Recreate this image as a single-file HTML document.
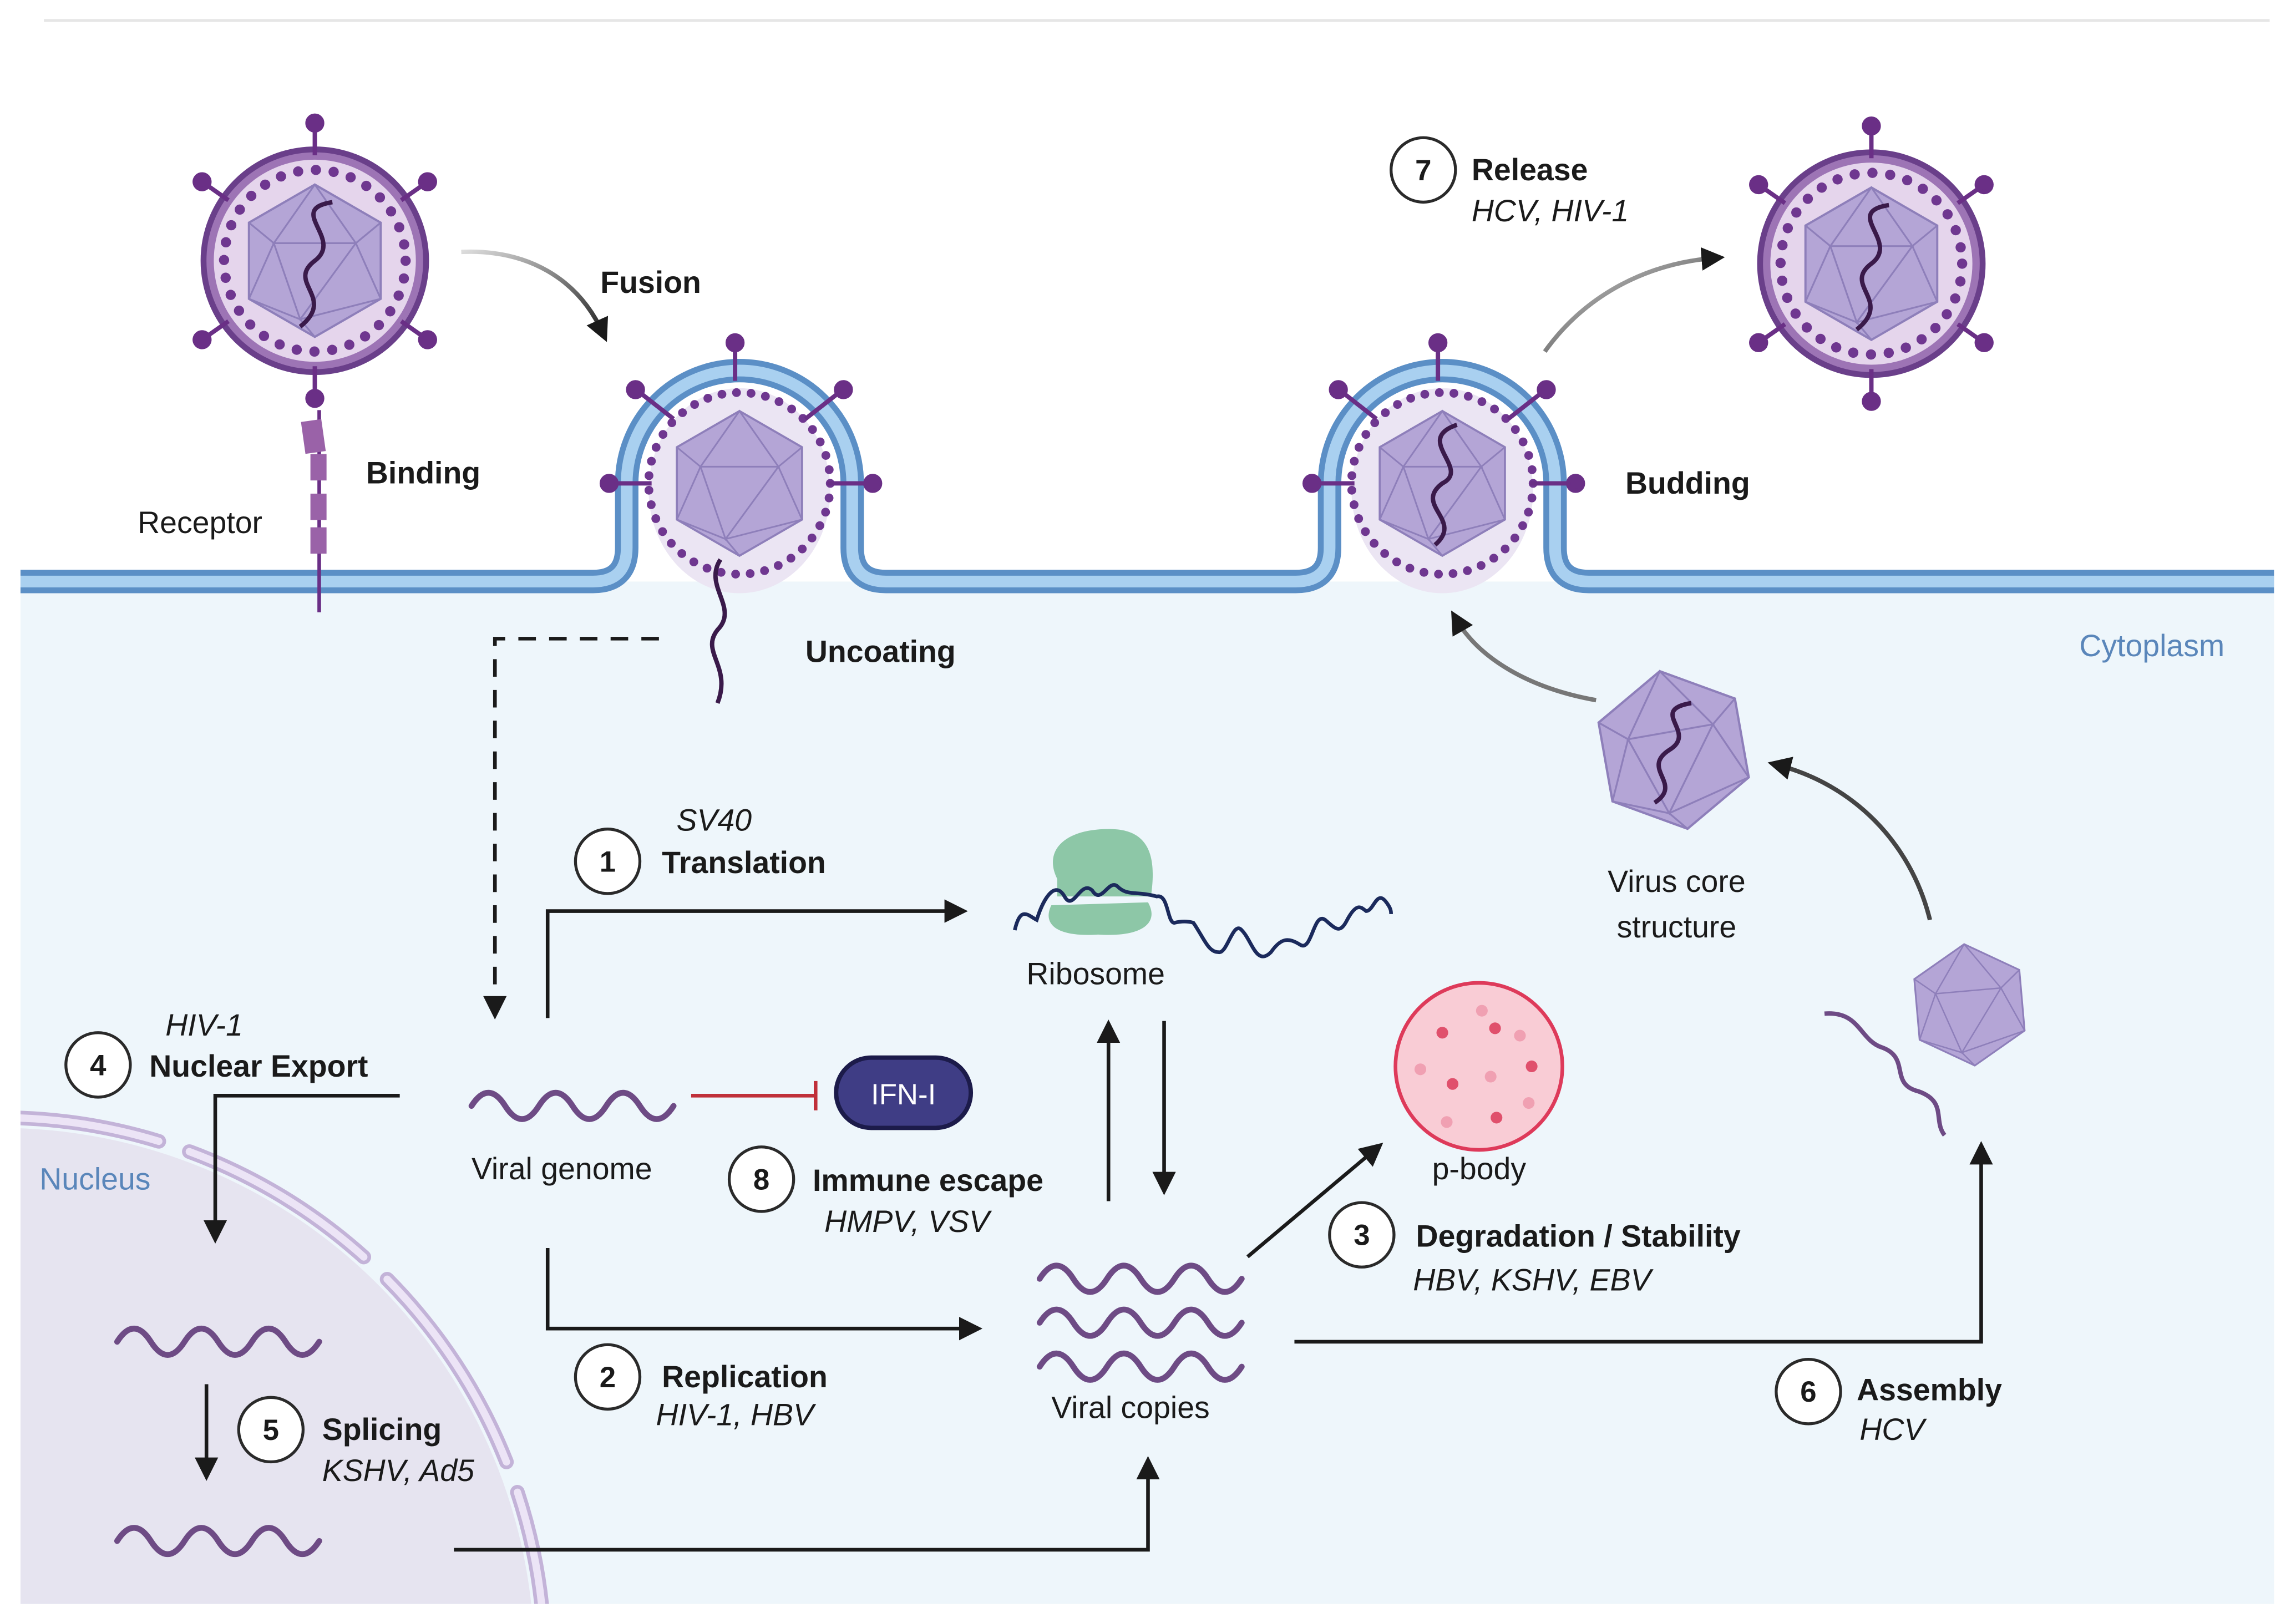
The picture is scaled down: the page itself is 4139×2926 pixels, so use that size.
<!DOCTYPE html>
<html><head><meta charset="utf-8"><style>
html,body{margin:0;padding:0;background:#fff;overflow:hidden;width:4139px;height:2926px}
svg{display:block}
text{font-family:"Liberation Sans",sans-serif;fill:#1a1a1a}
.b{font-weight:bold;font-size:21px}
.r{font-size:21px}
.i{font-style:italic;font-size:21px}
.n{font-weight:bold;font-size:20px;text-anchor:middle}
</style></head><body>
<svg width="4139" height="2926" viewBox="0 0 1568 1108" preserveAspectRatio="none" xmlns="http://www.w3.org/2000/svg">
<defs>
<marker id="ah2" markerWidth="16" markerHeight="16" refX="10" refY="8" orient="auto" markerUnits="userSpaceOnUse"><path d="M0,0 L16,8 L0,16 z" fill="#1a1a1a"/></marker>
<linearGradient id="g1" x1="0" y1="0" x2="1" y2="1"><stop offset="0" stop-color="#ddd"/><stop offset="1" stop-color="#222"/></linearGradient>
<g id="ico">
<polygon points="0,-52 45,-26 45,26 0,52 -45,26 -45,-26" fill="#b4a5d6" stroke="#8e7fba" stroke-width="1.5"/>
<path d="M0,-52 L-28,-12 L28,-12 Z M-28,-12 L-10,40 L28,-12 M-10,40 L0,52 M-45,-26 L-28,-12 M45,-26 L28,-12 M-45,26 L-10,40 M45,26 L-10,40 M-45,26 L-28,-12 M45,26 L28,-12" fill="none" stroke="#8e7fba" stroke-width="1.2"/>
</g>
<g id="spk" stroke="#6a2f86" stroke-width="3" fill="#6a2f86">
<line x1="0" y1="-72" x2="0" y2="-92"/><circle cx="0" cy="-94" r="5"/>
</g>
<g id="virus">
<circle r="76" fill="#9d74b5" stroke="#6a3f8a" stroke-width="4"/>
<circle r="69" fill="#e5d5ec"/>
<circle r="62" fill="none" stroke="#6f3790" stroke-width="7" stroke-dasharray="0 12.2" stroke-linecap="round"/>
<use href="#ico"/>
<path d="M12,-40 C-20,-35 20,-15 0,0 C-20,15 15,25 -10,45" fill="none" stroke="#3a1a4a" stroke-width="3"/>
<use href="#spk"/><use href="#spk" transform="rotate(180)"/>
<use href="#spk" transform="rotate(55)"/><use href="#spk" transform="rotate(-55)"/>
<use href="#spk" transform="rotate(125)"/><use href="#spk" transform="rotate(-125)"/>
</g>
<path id="wv" d="M0 0 q11.5 -18 23 0 q11.5 18 23 0 q11.5 -18 23 0 q11.5 18 23 0 q11.5 -18 23 0 q11.5 18 23 0" fill="none"/>
</defs>
<rect width="1568" height="1108" fill="#fff"/>
<line x1="30" y1="14" x2="1550" y2="14" stroke="#e6e6e6" stroke-width="2"/>
<rect x="14" y="397" width="1539" height="698" fill="#eef6fb"/>
<clipPath id="cl"><rect x="14" y="397" width="1539" height="698"/></clipPath>
<g clip-path="url(#cl)">
<circle cx="0" cy="1135" r="365" fill="#e6e4f0"/>
<circle cx="0" cy="1135" r="372" fill="none" stroke="#c3b3d8" stroke-width="10" stroke-linecap="round" stroke-dasharray="170 22 130 22 140 22 150 22" stroke-dashoffset="-185"/>
<circle cx="0" cy="1135" r="372" fill="none" stroke="#ece4f6" stroke-width="5" stroke-linecap="round" stroke-dasharray="170 22 130 22 140 22 150 22" stroke-dashoffset="-185"/>
</g>
<ellipse cx="505" cy="335" rx="62" ry="70" fill="#ebe5f3"/>
<ellipse cx="985" cy="335" rx="62" ry="70" fill="#ebe5f3"/>
<path d="M14 397 H405 Q428 397 428 374 V330 A77 77 0 0 1 582 330 V374 Q582 397 605 397 H885 Q908 397 908 374 V330 A77 77 0 0 1 1062 330 V374 Q1062 397 1085 397 H1553" fill="none" stroke="#5b8fc6" stroke-width="16"/>
<path d="M14 397 H405 Q428 397 428 374 V330 A77 77 0 0 1 582 330 V374 Q582 397 605 397 H885 Q908 397 908 374 V330 A77 77 0 0 1 1062 330 V374 Q1062 397 1085 397 H1553" fill="none" stroke="#a9d0f0" stroke-width="8"/>
<g transform="translate(505,330)">
<circle r="62" fill="none" stroke="#6f3790" stroke-width="6" stroke-dasharray="0 10" stroke-linecap="round"/>
<use href="#ico" transform="scale(0.95)"/>
<g stroke="#6a2f86" stroke-width="3" fill="#6a2f86">
<line x1="-3" y1="-70" x2="-3" y2="-92"/><circle cx="-3" cy="-96" r="5"/>
<line x1="-45" y1="-44" x2="-68" y2="-62"/><circle cx="-71" cy="-64" r="5"/>
<line x1="45" y1="-44" x2="68" y2="-62"/><circle cx="71" cy="-64" r="5"/>
<line x1="-60" y1="0" x2="-86" y2="0"/><circle cx="-89" cy="0" r="5"/>
<line x1="60" y1="0" x2="86" y2="0"/><circle cx="91" cy="0" r="5"/>
</g>
</g>
<path d="M492 382 C480 400 505 415 490 430 C478 445 500 455 490 480" fill="none" stroke="#3a1a4a" stroke-width="3"/>
<g transform="translate(985,330)">
<circle r="62" fill="none" stroke="#6f3790" stroke-width="6" stroke-dasharray="0 10" stroke-linecap="round"/>
<use href="#ico" transform="scale(0.95)"/>
<path d="M10,-40 C-20,-30 20,-10 0,0 C-20,15 15,25 -5,42" fill="none" stroke="#3a1a4a" stroke-width="3"/>
<g stroke="#6a2f86" stroke-width="3" fill="#6a2f86">
<line x1="-3" y1="-70" x2="-3" y2="-92"/><circle cx="-3" cy="-96" r="5"/>
<line x1="-45" y1="-44" x2="-68" y2="-62"/><circle cx="-71" cy="-64" r="5"/>
<line x1="45" y1="-44" x2="68" y2="-62"/><circle cx="71" cy="-64" r="5"/>
<line x1="-60" y1="0" x2="-86" y2="0"/><circle cx="-89" cy="0" r="5"/>
<line x1="60" y1="0" x2="86" y2="0"/><circle cx="91" cy="0" r="5"/>
</g>
</g>
<use href="#virus" transform="translate(215,178)"/>
<use href="#virus" transform="translate(1278,180)"/>
<g stroke="#6a2f86" fill="#9a62a8">
<line x1="218" y1="280" x2="218" y2="418" stroke-width="2.5"/>
<rect x="207" y="287" width="14" height="22" stroke="none" transform="rotate(-8 214 298)"/>
<rect x="212" y="310" width="11" height="18" stroke="none"/>
<rect x="212" y="337" width="11" height="18" stroke="none"/>
<rect x="212" y="360" width="11" height="18" stroke="none"/>
</g>
<g transform="translate(1143,512) rotate(-10) scale(1.05)"><use href="#ico"/></g>
<path d="M1155 480 C1125 485 1160 500 1140 512 C1120 525 1150 535 1130 548" fill="none" stroke="#3a1a4a" stroke-width="3"/>
<g transform="translate(1345,686) rotate(-5) scale(0.8)"><use href="#ico"/></g>
<path d="M1246 692 C1270 690 1270 710 1285 715 C1305 722 1290 740 1310 745 C1330 752 1320 765 1328 775" fill="none" stroke="#6e4b85" stroke-width="3"/>
<path d="M315 172 C360 170 395 190 412 228" fill="none" stroke="url(#g1)" stroke-width="3" marker-end="url(#ah2)"/>
<path d="M1055 240 C1080 205 1120 180 1172 176" fill="none" stroke="url(#g1)" stroke-width="3" marker-end="url(#ah2)"/>
<path d="M1090 478 C1045 470 1010 450 994 422" fill="none" stroke="#777" stroke-width="3" marker-end="url(#ah2)"/>
<path d="M1318 628 C1305 575 1265 535 1213 522" fill="none" stroke="#444" stroke-width="3" marker-end="url(#ah2)"/>
<!-- ribosome -->
<path d="M722 600 C712 580 728 565 760 566 C785 567 790 585 786 612 L722 612 Z" fill="#8dc7a7"/>
<path d="M718 618 L784 616 C792 630 780 640 750 638 C720 640 712 630 718 618 Z" fill="#8dc7a7"/>
<path d="M693 635 C697 618 702 625 708 628 C712 615 720 600 727 612 C733 623 738 600 746 608 C752 618 757 600 763 605 C770 612 775 608 790 612 C798 610 797 630 802 630 C810 628 815 630 815 630 C822 640 825 650 832 650 C838 652 842 628 848 635 C855 642 858 660 868 650 C875 640 880 640 888 645 C896 650 897 622 905 628 C912 634 915 638 920 628 C927 615 930 620 933 622 C938 622 940 608 946 615 C950 620 950 622 950 624" fill="none" stroke="#1b2a5c" stroke-width="2.5"/>
<circle cx="1010" cy="728" r="57" fill="#f9ccd5" stroke="#de3a5a" stroke-width="2.5"/>
<g fill="#e0506c"><circle cx="985" cy="705" r="4"/><circle cx="1021" cy="702" r="4"/><circle cx="1046" cy="728" r="4"/><circle cx="992" cy="740" r="4"/><circle cx="1022" cy="763" r="4"/></g>
<g fill="#f0a0b2"><circle cx="1012" cy="690" r="4"/><circle cx="1038" cy="707" r="4"/><circle cx="970" cy="730" r="4"/><circle cx="1018" cy="735" r="4"/><circle cx="1044" cy="753" r="4"/><circle cx="988" cy="766" r="4"/></g>
<g stroke="#6e4b85" stroke-width="4" stroke-linecap="round">
<use href="#wv" x="322" y="755"/>
<use href="#wv" x="80" y="916"/>
<use href="#wv" x="80" y="1052"/>
<use href="#wv" x="710" y="873"/>
<use href="#wv" x="710" y="903"/>
<use href="#wv" x="710" y="933"/>
</g>
<line x1="472" y1="748" x2="557" y2="748" stroke="#c0303a" stroke-width="2.5"/>
<line x1="557" y1="738" x2="557" y2="758" stroke="#c0303a" stroke-width="2.5"/>
<rect x="571" y="722" width="92" height="48" rx="24" fill="#3f3d85" stroke="#1c1b4a" stroke-width="3"/>
<text x="617" y="754" text-anchor="middle" style="fill:#fff;font-size:20px">IFN-I</text>
<g fill="none" stroke="#1a1a1a" stroke-width="2.5">
<path d="M450 436 H338 V690" stroke-dasharray="12 9" marker-end="url(#ah2)"/>
<path d="M374 695 V622 H655" marker-end="url(#ah2)"/>
<path d="M374 852 V907 H665" marker-end="url(#ah2)"/>
<path d="M273 748 H147 V843" marker-end="url(#ah2)"/>
<path d="M141 945 V1005" marker-end="url(#ah2)"/>
<path d="M310 1058 H784 V1000" marker-end="url(#ah2)"/>
<path d="M757 820 V702" marker-end="url(#ah2)"/>
<path d="M795 697 V810" marker-end="url(#ah2)"/>
<path d="M852 858 L940 784" marker-end="url(#ah2)"/>
<path d="M884 916 H1353 V785" marker-end="url(#ah2)"/>
</g>
<g fill="#fff" stroke="#2a2a2a" stroke-width="2">
<circle cx="972" cy="116" r="22"/><circle cx="415" cy="588" r="22"/><circle cx="67" cy="727" r="22"/>
<circle cx="520" cy="805" r="22"/><circle cx="930" cy="843" r="22"/><circle cx="415" cy="940" r="22"/>
<circle cx="1235" cy="950" r="22"/><circle cx="185" cy="976" r="22"/>
</g>
<text class="n" x="972" y="123">7</text><text class="n" x="415" y="595">1</text><text class="n" x="67" y="734">4</text>
<text class="n" x="520" y="812">8</text><text class="n" x="930" y="850">3</text><text class="n" x="415" y="947">2</text>
<text class="n" x="1235" y="957">6</text><text class="n" x="185" y="983">5</text>
<text class="b" x="410" y="200">Fusion</text>
<text class="b" x="250" y="330">Binding</text>
<text class="r" x="94" y="364">Receptor</text>
<text class="b" x="550" y="452">Uncoating</text>
<text class="b" x="1110" y="337">Budding</text>
<text class="b" x="1005" y="123">Release</text>
<text class="i" x="1005" y="151">HCV, HIV-1</text>
<text class="r" x="1420" y="448" style="fill:#5a86ba">Cytoplasm</text>
<text class="r" x="27" y="812" style="fill:#5a86ba">Nucleus</text>
<text class="i" x="462" y="567">SV40</text>
<text class="b" x="452" y="596">Translation</text>
<text class="r" x="701" y="672">Ribosome</text>
<text class="i" x="113" y="707">HIV-1</text>
<text class="b" x="102" y="735">Nuclear Export</text>
<text class="r" x="322" y="805">Viral genome</text>
<text class="b" x="555" y="813">Immune escape</text>
<text class="i" x="563" y="841">HMPV, VSV</text>
<text class="r" x="978" y="805">p-body</text>
<text class="b" x="967" y="851">Degradation / Stability</text>
<text class="i" x="965" y="881">HBV, KSHV, EBV</text>
<text class="r" x="718" y="968">Viral copies</text>
<text class="b" x="452" y="947">Replication</text>
<text class="i" x="448" y="973">HIV-1, HBV</text>
<text class="b" x="1268" y="956">Assembly</text>
<text class="i" x="1270" y="983">HCV</text>
<text class="b" x="220" y="983">Splicing</text>
<text class="i" x="220" y="1011">KSHV, Ad5</text>
<text class="r" x="1145" y="609" text-anchor="middle">Virus core</text>
<text class="r" x="1145" y="640" text-anchor="middle">structure</text>
</svg>
</body></html>
